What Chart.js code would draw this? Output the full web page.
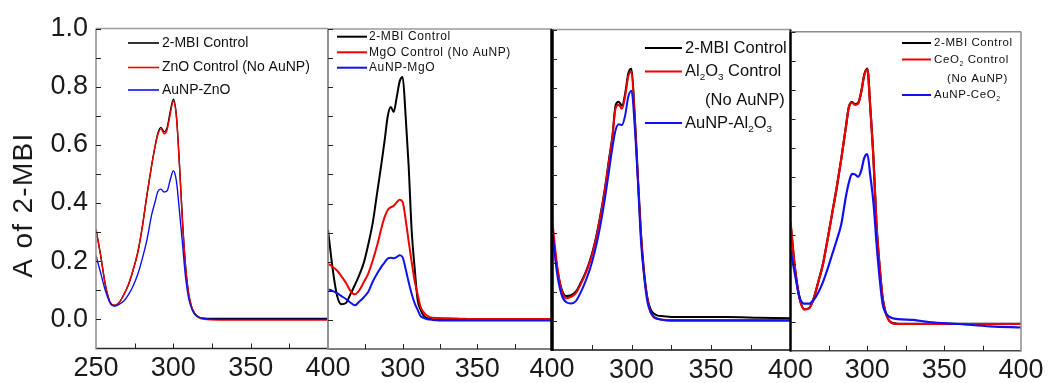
<!DOCTYPE html>
<html>
<head>
<meta charset="utf-8">
<script src="https://cdn.jsdelivr.net/npm/chart.js@4.4.1/dist/chart.umd.min.js"></script>
<style>
  html, body { margin: 0; padding: 0; background: #fff; }
  #wrap { position: relative; width: 1048px; height: 383px; overflow: hidden; background: #fff; }
  #wrap canvas { position: absolute; left: 0; top: 0; }
</style>
</head>
<body>
<div id="wrap">
  <canvas id="pZnO" width="1048" height="383"></canvas>
  <canvas id="pMgO" width="1048" height="383"></canvas>
  <canvas id="pAl" width="1048" height="383"></canvas>
  <canvas id="pCe" width="1048" height="383"></canvas>
</div>
<script>
// Wavelength grid (nm) shared by every spectrum
const WAVELENGTH = [250,253,256,259,262,265,268,271,274,277,
                    280,283,286,288,290,292,294,296,298,300,
                    302,304,306,308,310,312,314,316,320,330,
                    340,360,380,400];

// ZnO panel
const ZNO_MBI  = [0.31,0.22,0.12,0.06,0.048,0.058,0.085,0.12,0.17,0.23,
                  0.32,0.43,0.53,0.59,0.64,0.66,0.645,0.66,0.715,0.757,
                  0.70,0.53,0.33,0.178,0.085,0.04,0.02,0.01,0.004,0.003,
                  0.003,0.003,0.003,0.003];
const ZNO_CTRL = [0.31,0.22,0.12,0.06,0.048,0.058,0.085,0.12,0.17,0.23,
                  0.32,0.43,0.53,0.59,0.635,0.655,0.638,0.652,0.705,0.75,
                  0.695,0.525,0.33,0.175,0.085,0.04,0.018,0.008,0.0,-0.002,
                  -0.002,-0.002,-0.002,-0.002];
const ZNO_AU   = [0.22,0.16,0.10,0.058,0.046,0.052,0.063,0.085,0.115,0.155,
                  0.21,0.275,0.36,0.40,0.44,0.448,0.438,0.442,0.48,0.511,
                  0.475,0.37,0.255,0.14,0.07,0.035,0.016,0.008,0.003,0.0,
                  0.0,0.0,0.0,0.0];

// MgO panel
const MGO_MBI  = [0.31,0.18,0.085,0.054,0.058,0.088,0.12,0.155,0.197,0.26,
                  0.335,0.44,0.545,0.62,0.70,0.732,0.715,0.765,0.82,0.835,
                  0.70,0.53,0.31,0.18,0.07,0.035,0.015,0.007,0.002,0.0,
                  0.0,0.0,0.0,0.0];
const MGO_CTRL = [0.193,0.183,0.17,0.15,0.128,0.10,0.088,0.102,0.13,0.16,
                  0.205,0.258,0.32,0.355,0.378,0.387,0.392,0.404,0.413,0.405,
                  0.345,0.27,0.20,0.135,0.088,0.045,0.027,0.016,0.007,0.006,
                  0.004,0.003,0.003,0.003];
const MGO_AU   = [0.105,0.10,0.092,0.082,0.072,0.06,0.05,0.063,0.078,0.097,
                  0.132,0.16,0.185,0.198,0.211,0.214,0.212,0.216,0.222,0.215,
                  0.175,0.13,0.09,0.058,0.035,0.013,0.007,0.003,0.0,-0.002,
                  -0.002,-0.002,-0.002,-0.002];

// Al2O3 panel
const AL_MBI   = [0.325,0.19,0.11,0.085,0.088,0.10,0.13,0.165,0.21,0.27,
                  0.35,0.445,0.56,0.635,0.74,0.752,0.738,0.78,0.85,0.865,
                  0.71,0.50,0.30,0.165,0.08,0.04,0.025,0.019,0.016,0.013,
                  0.013,0.013,0.011,0.009];
const AL_CTRL  = [0.355,0.20,0.105,0.078,0.082,0.095,0.125,0.16,0.205,0.265,
                  0.345,0.44,0.555,0.63,0.73,0.742,0.728,0.77,0.84,0.855,
                  0.70,0.49,0.29,0.155,0.075,0.03,0.012,0.007,0.004,0.003,
                  0.003,0.003,0.003,0.003];
const AL_AU    = [0.32,0.17,0.09,0.064,0.06,0.068,0.097,0.135,0.18,0.24,
                  0.315,0.41,0.52,0.595,0.655,0.675,0.672,0.705,0.77,0.79,
                  0.67,0.48,0.27,0.15,0.065,0.03,0.015,0.008,0.003,0.0,
                  0.0,0.0,0.0,0.0];

// CeO2 panel
const CE_MBI   = [0.34,0.18,0.079,0.043,0.046,0.079,0.136,0.196,0.28,0.37,
                  0.46,0.56,0.67,0.74,0.757,0.75,0.754,0.792,0.852,0.873,
                  0.732,0.562,0.332,0.19,0.08,0.03,0.005,-0.004,-0.007,-0.007,
                  -0.007,-0.007,-0.007,-0.007];
const CE_CTRL  = [0.345,0.18,0.078,0.042,0.046,0.078,0.135,0.195,0.28,0.37,
                  0.46,0.56,0.67,0.74,0.755,0.748,0.752,0.79,0.85,0.87,
                  0.73,0.56,0.33,0.19,0.08,0.03,0.005,-0.005,-0.008,-0.008,
                  -0.008,-0.008,-0.008,-0.008];
const CE_AU    = [0.247,0.16,0.082,0.062,0.062,0.075,0.10,0.135,0.18,0.23,
                  0.28,0.335,0.43,0.48,0.51,0.508,0.50,0.52,0.565,0.578,
                  0.50,0.41,0.27,0.15,0.06,0.03,0.018,0.013,0.009,0.006,
                  -0.001,-0.008,-0.016,-0.02];

// Axis ticks
const Y_TICKS = [0.0, 0.2, 0.4, 0.6, 0.8, 1.0];
const Y_MINOR_TICKS = [0.0, 0.1, 0.2, 0.3, 0.4, 0.5, 0.6, 0.7, 0.8, 0.9, 1.0];
const X_TICKS_FIRST = [250, 300, 350, 400];
const X_TICKS_REST = [300, 350, 400];
const X_MINOR_TICKS = [275, 300, 325, 350, 375];

const FONT = "'Liberation Sans', Arial, sans-serif";
const TICK_FONT = "'Liberation Sans Narrow', 'Arial Narrow', 'Liberation Sans', sans-serif";
const BLACK = '#000000', RED = '#f00000', BLUE = '#1010f0';

const panels = [
  { canvas: 'pZnO', area: { left: 96, right: 328, top: 28.5, bottom: 348.5 },
    xTicks: X_TICKS_FIRST, showY: true, lineWidth: 1.4,
    frame: { left: ['#8c8c8c', 1.5], top: ['#9a9a9a', 1.5], right: ['#8c8c8c', 1.5], bottom: ['#2a2a2a', 1.5] },
    series: [
      { label: '2-MBI Control', values: ZNO_MBI, color: BLACK, order: 2 },
      { label: 'ZnO Control (No AuNP)', values: ZNO_CTRL, color: RED, order: 1 },
      { label: 'AuNP-ZnO', values: ZNO_AU, color: BLUE, order: 0 } ],
    legend: { size: 14, spacing: 0, x0: 128, x1: 159, tx: 162, lw: 1.6,
      rows: [ { y: 43, color: BLACK, text: '2-MBI Control' },
              { y: 67.5, color: RED, text: 'ZnO Control (No AuNP)' },
              { y: 90, color: BLUE, text: 'AuNP-ZnO' } ] } },
  { canvas: 'pMgO', area: { left: 328, right: 552, top: 29, bottom: 349 },
    xTicks: X_TICKS_REST, showY: false, lineWidth: 2,
    frame: { left: ['#8c8c8c', 1.5], top: ['#9a9a9a', 1.5], right: ['#000', 3], bottom: ['#555', 1.5] },
    series: [
      { label: '2-MBI Control', values: MGO_MBI, color: BLACK, order: 2 },
      { label: 'MgO Control (No AuNP)', values: MGO_CTRL, color: RED, order: 1 },
      { label: 'AuNP-MgO', values: MGO_AU, color: BLUE, order: 0 } ],
    legend: { size: 12, spacing: 0.6, x0: 337, x1: 367, tx: 369, lw: 2,
      rows: [ { y: 36.7, color: BLACK, text: '2-MBI Control' },
              { y: 52.3, color: RED, text: 'MgO Control (No AuNP)' },
              { y: 67.7, color: BLUE, text: 'AuNP-MgO' } ] } },
  { canvas: 'pAl', area: { left: 552, right: 790.5, top: 29.5, bottom: 350 },
    xTicks: X_TICKS_REST, showY: false, lineWidth: 2,
    frame: { left: ['#000', 3], top: ['#9a9a9a', 1.5], right: ['#000', 2], bottom: ['#111', 1.5] },
    series: [
      { label: '2-MBI Control', values: AL_MBI, color: BLACK, order: 2 },
      { label: 'Al2O3 Control (No AuNP)', values: AL_CTRL, color: RED, order: 1 },
      { label: 'AuNP-Al2O3', values: AL_AU, color: BLUE, order: 0 } ],
    legend: { size: 16.5, spacing: 0, x0: 645, x1: 682, tx: 685, lw: 2,
      rows: [ { y: 48, color: BLACK, text: '2-MBI Control' },
              { y: 71.5, color: RED, text: 'Al_2O_3 Control' },
              { y: 100, color: null, text: '(No AuNP)', tx: 705 },
              { y: 123, color: BLUE, text: 'AuNP-Al_2O_3' } ] } },
  { canvas: 'pCe', area: { left: 790.5, right: 1021, top: 31.7, bottom: 350.7 },
    xTicks: X_TICKS_REST, showY: false, lineWidth: 2.2,
    frame: { left: ['#000', 2], top: ['#8c8c8c', 1.5], right: ['#8c8c8c', 1.5], bottom: ['#444', 1.5] },
    series: [
      { label: '2-MBI Control', values: CE_MBI, color: BLACK, order: 2 },
      { label: 'CeO2 Control (No AuNP)', values: CE_CTRL, color: RED, order: 1 },
      { label: 'AuNP-CeO2', values: CE_AU, color: BLUE, order: 0 } ],
    legend: { size: 11.5, spacing: 0.6, x0: 902, x1: 931, tx: 934, lw: 2,
      rows: [ { y: 43, color: BLACK, text: '2-MBI Control' },
              { y: 59.5, color: RED, text: 'CeO_2 Control' },
              { y: 79, color: null, text: '(No AuNP)', tx: 947 },
              { y: 95, color: BLUE, text: 'AuNP-CeO_2' } ] } }
];

// Text with '_' marking the following character as a subscript
function drawRichText(ctx, text, x, y, size) {
  const runs = [];
  for (let i = 0; i < text.length; i++) {
    if (text[i] === '_' && i + 1 < text.length) { runs.push({ t: text[i + 1], sub: true }); i++; }
    else if (runs.length && !runs[runs.length - 1].sub) runs[runs.length - 1].t += text[i];
    else runs.push({ t: text[i], sub: false });
  }
  let cx = x;
  for (const r of runs) {
    const fs = r.sub ? size * 0.6 : size;
    ctx.font = `${fs}px ${FONT}`;
    ctx.fillText(r.t, cx, r.sub ? y + size * 0.38 : y);
    cx += ctx.measureText(r.t).width;
  }
}

function line(ctx, x0, y0, x1, y1, color, w) {
  ctx.strokeStyle = color; ctx.lineWidth = w;
  ctx.beginPath(); ctx.moveTo(x0, y0); ctx.lineTo(x1, y1); ctx.stroke();
}

function framePlugin(p) {
  return {
    id: 'frame_' + p.canvas,
    afterDatasetsDraw(chart) {
      const { ctx, chartArea: a, scales: { x, y } } = chart;
      ctx.save();
      const f = p.frame;
      line(ctx, a.left, a.top, a.right, a.top, f.top[0], f.top[1]);
      line(ctx, a.left, a.bottom, a.right, a.bottom, f.bottom[0], f.bottom[1]);
      line(ctx, a.right, a.top, a.right, a.bottom + 1, f.right[0], f.right[1]);
      line(ctx, a.left, a.top, a.left, a.bottom + 1, f.left[0], f.left[1]);
      // inward tick marks
      for (const v of Y_MINOR_TICKS) {
        const py = Math.round(y.getPixelForValue(v)) + 0.5;
        line(ctx, a.left, py, a.left + 5, py, '#222', 1);
      }
      for (const v of X_MINOR_TICKS) {
        const px = Math.round(x.getPixelForValue(v)) + 0.5;
        line(ctx, px, a.bottom, px, a.bottom - 5, '#222', 1);
      }
      // legend
      const L = p.legend;
      ctx.textBaseline = 'middle';
      ctx.textAlign = 'left';
      ctx.fillStyle = '#111';
      ctx.letterSpacing = L.spacing + 'px';
      for (const r of L.rows) {
        if (r.color) line(ctx, L.x0, r.y, L.x1, r.y, r.color, L.lw);
        drawRichText(ctx, r.text, r.tx || L.tx, r.y, L.size);
      }
      ctx.letterSpacing = '0px';
      if (p.showY) {
        // vertical axis title
        ctx.save();
        ctx.translate(24, 205);
        ctx.rotate(-Math.PI / 2);
        ctx.textAlign = 'center';
        ctx.fillStyle = '#1a1a1a';
        ctx.font = `28px ${FONT}`;
        ctx.letterSpacing = '1.3px';
        ctx.fillText('A of 2-MBI', 0, 0);
        ctx.restore();
      }
      ctx.restore();
    }
  };
}

function makePanel(p) {
  return new Chart(document.getElementById(p.canvas), {
    type: 'line',
    data: {
      datasets: p.series.map(s => ({
        label: s.label,
        data: WAVELENGTH.map((w, i) => ({ x: w, y: s.values[i] })),
        borderColor: s.color,
        borderWidth: p.lineWidth,
        pointRadius: 0,
        fill: false,
        cubicInterpolationMode: 'monotone',
        order: s.order
      }))
    },
    options: {
      responsive: false,
      animation: false,
      devicePixelRatio: 1,
      layout: { padding: { left: 0, top: p.area.top, right: 1048 - p.area.right, bottom: 0 } },
      plugins: { legend: { display: false }, tooltip: { enabled: false } },
      scales: {
        x: {
          type: 'linear', min: 250, max: 400,
          afterFit: s => { s.height = 383 - p.area.bottom; },
          afterBuildTicks: s => { s.ticks = p.xTicks.map(v => ({ value: v })); },
          grid: { display: false, drawTicks: false },
          border: { display: false },
          ticks: { font: { family: TICK_FONT, size: 27 }, color: '#1a1a1a', padding: 4,
                   maxRotation: 0, autoSkip: false, callback: v => String(v) }
        },
        y: {
          type: 'linear', min: -0.1, max: 1.0,
          afterFit: s => { s.width = p.area.left; },
          afterBuildTicks: s => { s.ticks = Y_TICKS.map(v => ({ value: v })); },
          grid: { display: false, drawTicks: false },
          border: { display: false },
          ticks: { display: p.showY, font: { family: TICK_FONT, size: 27 }, color: '#1a1a1a',
                   padding: 8, callback: v => Number(v).toFixed(1) }
        }
      }
    },
    plugins: [framePlugin(p)]
  });
}

panels.forEach(makePanel);
</script>
</body>
</html>
